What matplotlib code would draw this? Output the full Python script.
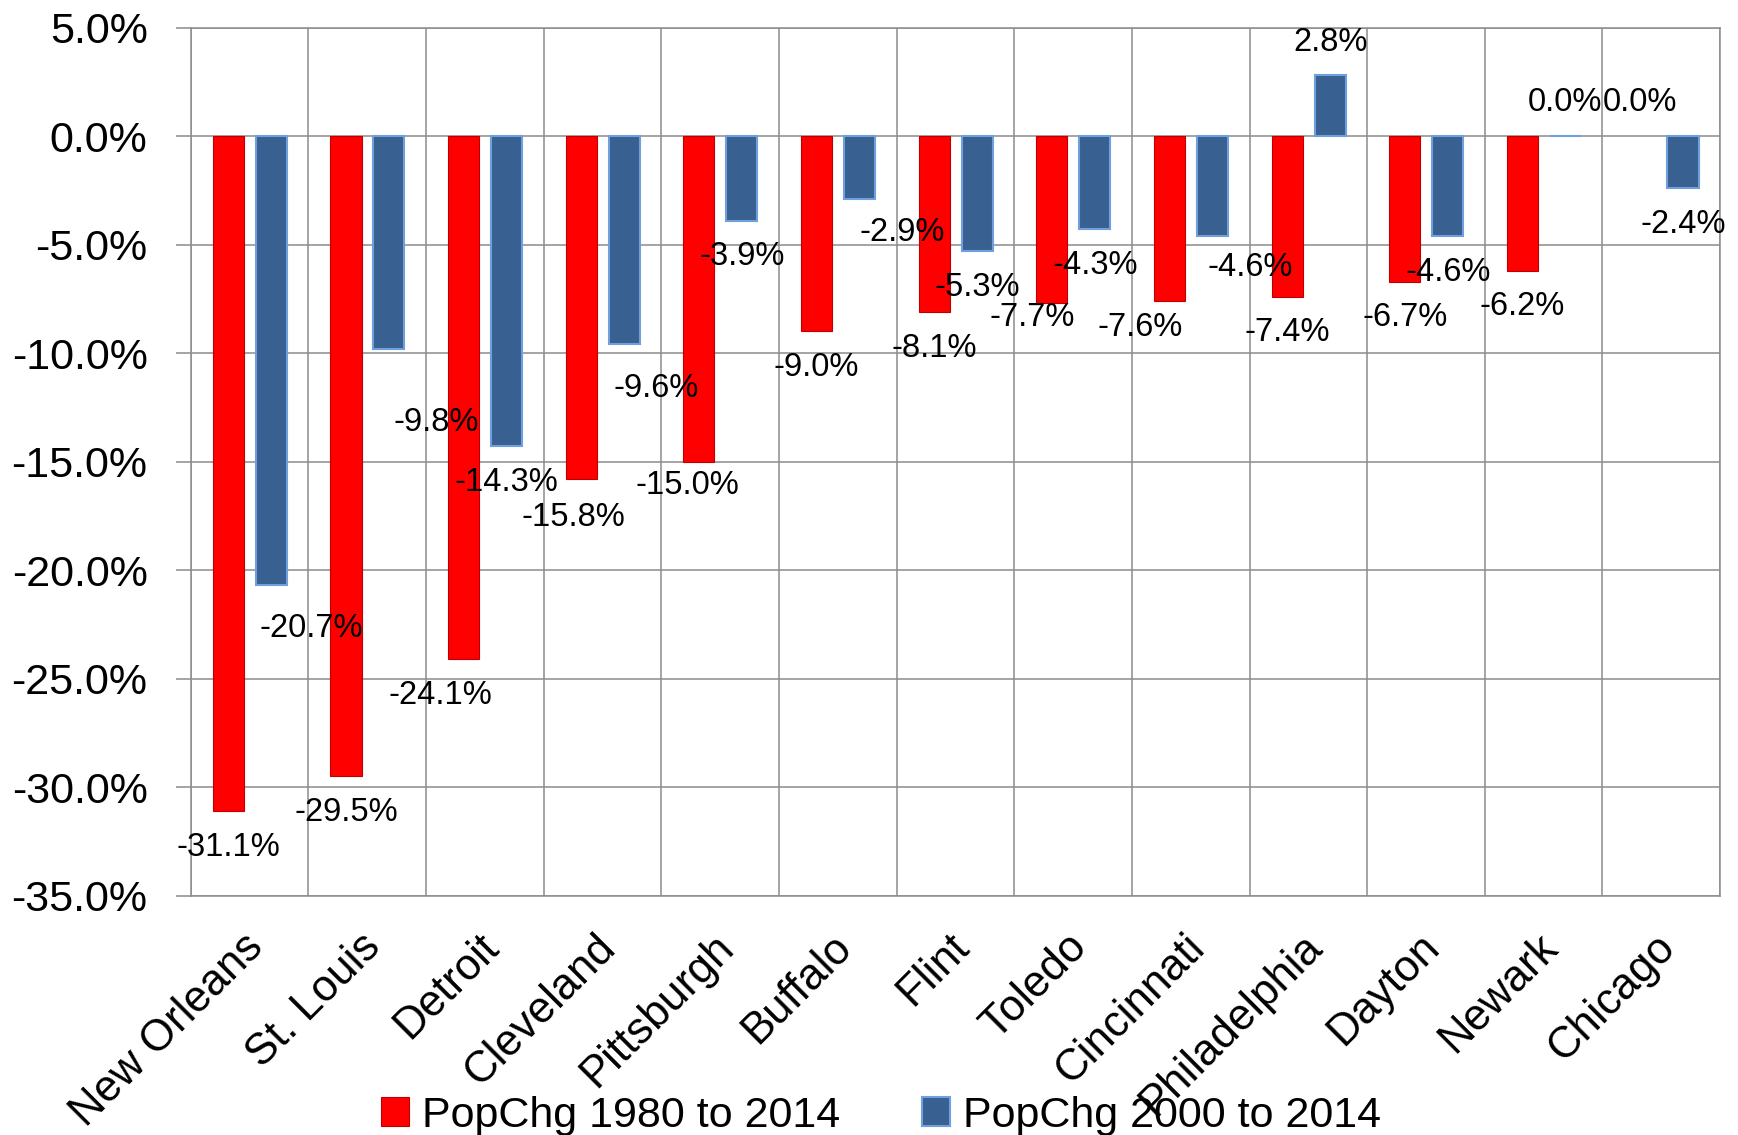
import numpy as np
import matplotlib
matplotlib.use("Agg")
import matplotlib.pyplot as plt
import matplotlib.transforms as mtransforms
from matplotlib.ticker import FuncFormatter, FixedLocator

plt.rcParams['font.family'] = ['Liberation Sans', 'DejaVu Sans']

cities = ["New Orleans", "St. Louis", "Detroit", "Cleveland", "Pittsburgh", "Buffalo",
          "Flint", "Toledo", "Cincinnati", "Philadelphia", "Dayton", "Newark", "Chicago"]
chg_1980 = [-31.1, -29.5, -24.1, -15.8, -15.0, -9.0, -8.1, -7.7, -7.6, -7.4, -6.7, -6.2, 0.0]
chg_2000 = [-20.7, -9.8, -14.3, -9.6, -3.9, -2.9, -5.3, -4.3, -4.6, 2.8, -4.6, 0.0, -2.4]
series_names = ["PopChg 1980 to 2014", "PopChg 2000 to 2014"]
yticks = [5, 0, -5, -10, -15, -20, -25, -30, -35]

# hand-moved data labels in the original (points, +y = down)
nudge_1980 = [(0, 0), (0, 0), (-17, 0), (-6, 2), (-8, -9), (0, 0), (0, 0),
              (-14, -16), (-21, -7), (0, 0), (0, 0), (0, 0), (0, 0)]
nudge_2000 = [(29, 5), (34, 27), (0, 0), (23, 6), (0, 0), (31, -2), (0, 0),
              (0, 0), (27, -3), (0, 0), (0, 0), (0, 0), (0, 0)]

RED = "#ff0000"
BLUE = "#386090"
GRID = "#8c8c8c"

fig = plt.figure(figsize=(17.38, 11.35), dpi=100)
ax = fig.add_axes([0.1097, 0.211, 0.880, 0.7646])

x = np.arange(len(cities))
w = 0.265
b1 = ax.bar(x - 0.18, chg_1980, w, color=RED, edgecolor="#c00000", linewidth=0.8,
            label=series_names[0], zorder=3)
b2 = ax.bar(x + 0.185, chg_2000, w, color=BLUE, edgecolor="#6f9fdc", linewidth=1.5,
            label=series_names[1], zorder=3)
# a zero-height red bar leaves no visible edge in the original
for rect, v in zip(b1, chg_1980):
    if v == 0:
        rect.set_linewidth(0)

for bars, vals, nudges in [(b1, chg_1980, nudge_1980), (b2, chg_2000, nudge_2000)]:
    for rect, v, (dx, dy) in zip(bars, vals, nudges):
        cx = rect.get_x() + rect.get_width() / 2
        base = 24 if v >= 0 else -26
        ax.annotate(f"{v:.1f}%", (cx, v), xytext=(dx, base - dy), textcoords="offset points",
                    ha="center", va="center", fontsize=23.5, color="black", zorder=5)

ax.set_xlim(-0.5, len(cities) - 0.5)
ax.set_ylim(-35, 5)
ax.yaxis.set_major_locator(FixedLocator(yticks))
ax.yaxis.set_major_formatter(FuncFormatter(lambda v, p: f"{v:.1f}%"))
ax.tick_params(axis="y", labelsize=31, length=11, width=1.1, color=GRID, pad=20)

ax.set_xticks(x)
ax.set_xticklabels(cities, rotation=45, ha="right", rotation_mode="anchor", fontsize=31.5)
ax.tick_params(axis="x", length=0, pad=22)
offset = mtransforms.ScaledTranslation(-7 / 100, 0, fig.dpi_scale_trans)
for lbl in ax.get_xticklabels():
    lbl.set_transform(lbl.get_transform() + offset)

ax.set_xticks(np.arange(-0.5, len(cities), 1), minor=True)
ax.tick_params(axis="x", which="minor", length=0)
ax.grid(axis="y", which="major", color=GRID, linewidth=1.1, zorder=0)
ax.grid(axis="x", which="minor", color=GRID, linewidth=1.1, zorder=0)
ax.set_axisbelow(True)
for s in ax.spines.values():
    s.set_color(GRID)
    s.set_linewidth(1.1)

fig.legend(handles=[b1, b2], labels=series_names, loc="center", bbox_to_anchor=(0.507, 0.017),
           ncol=2, frameon=False, fontsize=31, handlelength=0.65, handleheight=0.65,
           handletextpad=0.3, columnspacing=1.9)

fig.savefig("out.png", dpi=100)
